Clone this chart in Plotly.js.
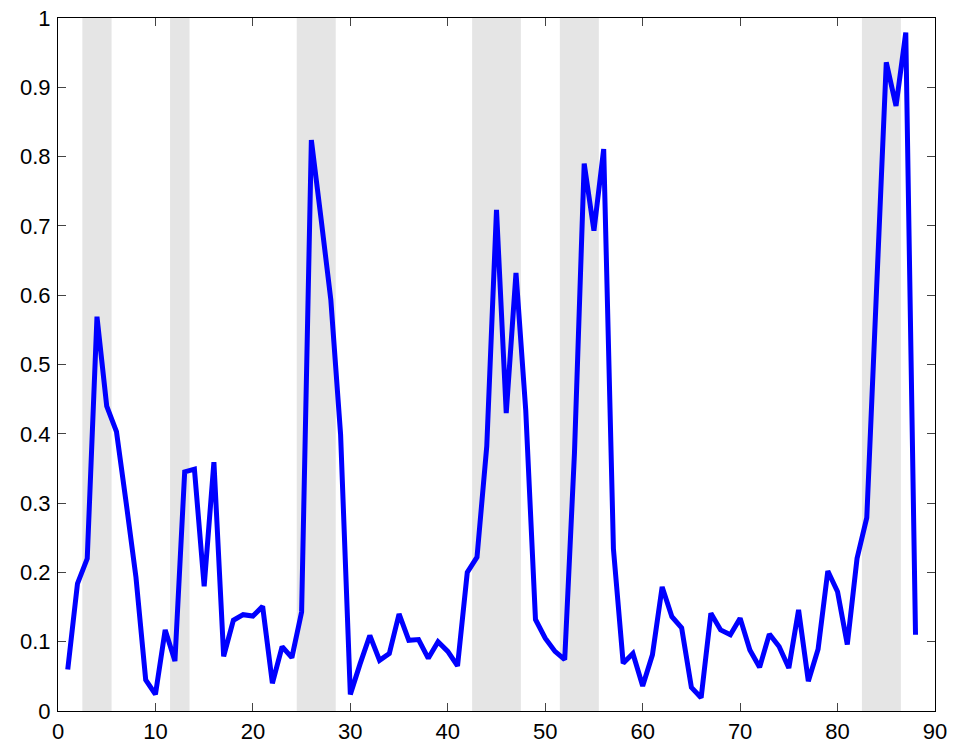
<!DOCTYPE html>
<html><head><meta charset="utf-8">
<script src="https://cdn.plot.ly/plotly-3.0.1.min.js"></script>
<style>html,body{margin:0;padding:0;background:#fff}#chart{width:953px;height:746px}</style>
</head><body><div id="chart"></div>
<script>
var xValues = [];
for (var i = 1; i <= 88; i++) xValues.push(i);
var yValues = [
 0.060,0.184,0.220,0.569,0.440,0.403,0.300,0.193,0.045,0.024,
 0.117,0.072,0.345,0.349,0.180,0.359,0.079,0.131,0.139,0.137,
 0.151,0.040,0.093,0.077,0.143,0.824,0.710,0.593,0.399,0.024,
 0.068,0.109,0.073,0.083,0.140,0.102,0.103,0.076,0.100,0.086,
 0.065,0.200,0.222,0.382,0.723,0.430,0.632,0.434,0.132,0.105,
 0.086,0.074,0.372,0.790,0.693,0.811,0.234,0.069,0.083,0.036,
 0.081,0.179,0.136,0.120,0.034,0.019,0.141,0.117,0.110,0.134,
 0.088,0.063,0.111,0.093,0.062,0.146,0.043,0.089,0.202,0.172,
 0.096,0.220,0.279,0.610,0.936,0.873,0.979,0.110
];
var shadeStart = [2.5, 11.5, 24.5, 42.5, 51.5, 82.5];
var shadeEnd   = [5.5, 13.5, 28.5, 47.5, 55.5, 86.5];
var xTicks = [0,10,20,30,40,50,60,70,80,90];
var yTicks = [0,0.1,0.2,0.3,0.4,0.5,0.6,0.7,0.8,0.9,1];
var yTickText = ['0','0.1','0.2','0.3','0.4','0.5','0.6','0.7','0.8','0.9','1'];

var shapes = shadeStart.map(function(s, k){
  return {type:'rect', xref:'x', yref:'paper', x0:s, x1:shadeEnd[k], y0:0, y1:1,
          fillcolor:'#e5e5e5', line:{width:0}, layer:'below'};
});

var trace = {x:xValues, y:yValues, type:'scatter', mode:'lines',
  line:{color:'#0000ff', width:5}, hoverinfo:'skip'};

var axisCommon = {showgrid:false, zeroline:false, showline:true, linecolor:'#000', linewidth:1,
  mirror:'ticks', ticks:'inside', ticklen:8, tickcolor:'#444', tickwidth:1,
  tickfont:{family:'Liberation Sans, Arial, sans-serif', size:22, color:'#000'}};

var layout = {
  width:953, height:746,
  margin:{l:58, r:18, t:18, b:35},
  paper_bgcolor:'#fff', plot_bgcolor:'#fff',
  showlegend:false,
  shapes:shapes,
  xaxis:Object.assign({}, axisCommon, {range:[0,90], tickmode:'array', tickvals:xTicks, ticktext:xTicks.map(String), ticklabelstandoff:1}),
  yaxis:Object.assign({}, axisCommon, {range:[0,1], tickmode:'array', tickvals:yTicks, ticktext:yTickText, ticklabelstandoff:2})
};
Plotly.newPlot('chart', [trace], layout, {displayModeBar:false, staticPlot:true});
</script></body></html>
